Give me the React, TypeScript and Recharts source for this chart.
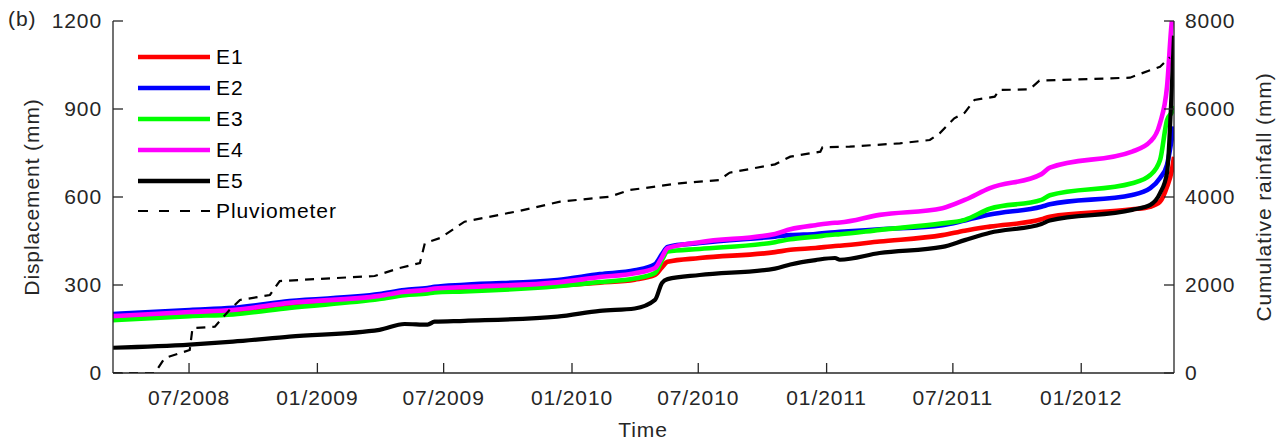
import React from 'react';
import { LineChart, Line, XAxis, YAxis, Legend } from 'recharts';

// displacement readings (mm)
const dispDates = [
  '2008-03-14', '2008-07-02', '2008-09-02', '2008-11-22', '2009-03-31', '2009-05-06', '2009-06-08',
  '2009-06-18', '2009-07-31', '2009-12-11', '2010-02-10', '2010-04-01', '2010-04-30', '2010-05-10',
  '2010-05-18', '2010-07-03', '2010-10-19', '2010-11-10', '2010-12-16', '2011-01-13', '2011-01-20',
  '2011-03-18', '2011-06-16', '2011-07-18', '2011-08-23', '2011-11-05', '2011-11-17', '2012-03-14',
  '2012-04-09', '2012-04-23', '2012-05-03', '2012-05-10', '2012-05-13',
];
const e1 = [186, 199, 206, 230, 256, 269, 275, 279, 282, 298, 308, 318, 334, 360, 379, 392, 412, 420, 426, 433, 434, 448, 470, 485, 499, 524, 533, 558, 567, 584, 635, 692, 737];
const e2 = [201, 215, 222, 245, 269, 283, 290, 294, 301, 317, 337, 350, 371, 405, 430, 443, 465, 470, 474, 480, 481, 490, 504, 520, 540, 567, 575, 607, 630, 665, 710, 800, 840];
const e3 = [180, 194, 200, 222, 252, 265, 271, 275, 278, 296, 310, 322, 341, 385, 414, 423, 446, 456, 465, 472, 473, 488, 510, 522, 560, 590, 606, 647, 675, 726, 862, 890, 910];
const e4 = [194, 208, 215, 239, 263, 277, 284, 288, 293, 309, 327, 340, 358, 395, 426, 446, 474, 490, 504, 512, 513, 539, 562, 590, 630, 678, 700, 755, 789, 852, 976, 1200, 1240];
const e5 = [86, 97, 107, 124, 147, 167, 165, 175, 178, 192, 212, 220, 249, 307, 320, 334, 356, 370, 385, 392, 386, 409, 430, 453, 478, 508, 520, 556, 573, 613, 682, 980, 1150];

// cumulative rainfall (mm)
const rainDates = [
  '2008-03-14', '2008-05-13', '2008-05-27', '2008-07-02', '2008-07-06', '2008-08-07', '2008-08-28',
  '2008-09-12', '2008-10-25', '2008-11-08', '2009-03-24', '2009-04-29', '2009-05-28', '2009-06-04',
  '2009-06-26', '2009-07-31', '2009-10-19', '2009-12-15', '2010-02-24', '2010-03-25', '2010-06-04',
  '2010-07-31', '2010-08-15', '2010-10-19', '2010-11-10', '2010-12-23', '2010-12-26', '2011-02-03',
  '2011-04-16', '2011-05-29', '2011-06-12', '2011-07-03', '2011-07-18', '2011-08-01', '2011-08-30',
  '2011-09-06', '2011-10-19', '2011-11-02', '2012-03-11', '2012-03-25', '2012-04-23', '2012-05-07',
];
const rainfall = [
  0, 0, 340, 523, 1020, 1052, 1432, 1659, 1773, 2090, 2205, 2386, 2500, 2950, 3068, 3439, 3689, 3894,
  4007, 4159, 4311, 4386, 4552, 4742, 4917, 5030, 5129, 5144, 5220, 5295, 5447, 5788, 5917, 6205, 6280,
  6432, 6447, 6644, 6712, 6795, 6962, 7174,
];

const seriesNames = ['E1', 'E2', 'E3', 'E4', 'E5'];
const seriesColors = ['#ff0000', '#0000ff', '#00ff00', '#ff00ff', '#000000'];
const seriesValues = [e1, e2, e3, e4, e5];

const tickDates = ['2008-07-01', '2009-01-01', '2009-07-01', '2010-01-01', '2010-07-01', '2011-01-01', '2011-07-01', '2012-01-01'];
const tickLabels = ['07/2008', '01/2009', '07/2009', '01/2010', '07/2010', '01/2011', '07/2011', '01/2012'];
const leftTicks = [0, 300, 600, 900, 1200];
const rightTicks = [0, 2000, 4000, 6000, 8000];
const startDate = '2008-03-14';
const endDate = '2012-05-13';

const toT = (s: string) => Date.parse(s + 'T00:00:00Z');

const dispData = dispDates.map((d, i) => {
  const row: Record<string, number> = { t: toT(d) };
  seriesNames.forEach((n, k) => { row[n] = seriesValues[k][i]; });
  return row;
});
const rainData = rainDates.map((d, i) => ({ t: toT(d), rain: rainfall[i] }));
const xTicks = tickDates.map(toT);

const FONT = '"Liberation Sans", Arial, sans-serif';
const INK = '#262626';
const tickStyle = { fill: INK, fontSize: 21, fontFamily: FONT, letterSpacing: 0.9 };
const lineStyle = { stroke: INK, strokeWidth: 1.3 };
const RAIN_DASH = '9 7';

const fmtX = (v: number) => {
  const i = xTicks.indexOf(v);
  return i >= 0 ? tickLabels[i] : '';
};

function LegendBox(props: any) {
  const items = (props.payload || []) as any[];
  return (
    <div style={{ fontFamily: FONT, fontSize: 21, color: '#000', letterSpacing: 0.9 }}>
      {items.map((it) => (
        <div key={it.value} style={{ display: 'flex', alignItems: 'center', height: 30.8 }}>
          <svg width={78} height={12}>
            <line
              x1={0} y1={6} x2={72} y2={6}
              stroke={it.color}
              strokeWidth={it.value === 'Pluviometer' ? 2.2 : 4.5}
              strokeDasharray={it.value === 'Pluviometer' ? '10 11' : undefined}
            />
          </svg>
          <span>{it.value}</span>
        </div>
      ))}
    </div>
  );
}

export default function App() {
  return (
    <div style={{ position: 'absolute', left: 0, top: 0, width: 1285, height: 443, background: '#fff' }}>
      <div style={{ position: 'absolute', left: 8, top: 7, fontFamily: FONT, fontSize: 21, letterSpacing: 0.9, color: INK }}>(b)</div>
      <LineChart width={1285} height={443} margin={{ top: 21, right: 51, bottom: 40, left: 53 }}>
        <XAxis
          dataKey="t" type="number" scale="linear" domain={[toT(startDate), toT(endDate)]} allowDataOverflow
          ticks={xTicks} tickFormatter={fmtX} height={30} tickSize={-10} tickMargin={27}
          tick={tickStyle} axisLine={lineStyle} tickLine={lineStyle} interval={0}
          label={{
            content: () => (
              <text x={643} y={437} textAnchor="middle" fill={INK} fontSize={21} fontFamily={FONT} style={{ letterSpacing: 0.9 }}>Time</text>
            ),
          }}
        />
        <XAxis
          xAxisId="top" orientation="top" dataKey="t" type="number" scale="linear"
          domain={[toT(startDate), toT(endDate)]} allowDataOverflow ticks={xTicks}
          tickFormatter={() => ''} height={0} tickSize={-10} axisLine={lineStyle} tickLine={lineStyle} interval={0}
        />
        <YAxis
          yAxisId="left" domain={[0, 1200]} ticks={leftTicks} allowDataOverflow width={60}
          tickSize={-10} tickMargin={21} tick={tickStyle} axisLine={lineStyle} tickLine={lineStyle} interval={0}
          label={{
            content: () => (
              <text x={31} y={197} transform="rotate(-90 31 197)" textAnchor="middle" dominantBaseline="central" fill={INK} fontSize={21} fontFamily={FONT} style={{ letterSpacing: 0.9 }}>
                Displacement (mm)
              </text>
            ),
          }}
        />
        <YAxis
          yAxisId="right" orientation="right" domain={[0, 8000]} ticks={rightTicks} allowDataOverflow width={60}
          tickSize={-10} tickMargin={21} tick={tickStyle} axisLine={lineStyle} tickLine={lineStyle} interval={0}
          label={{
            content: () => (
              <text x={1263} y={197} transform="rotate(-90 1263 197)" textAnchor="middle" dominantBaseline="central" fill={INK} fontSize={21} fontFamily={FONT} style={{ letterSpacing: 0.9 }}>
                Cumulative rainfall (mm)
              </text>
            ),
          }}
        />
        {seriesNames.map((n, k) => (
          <Line
            key={n} yAxisId="left" data={dispData} dataKey={n} name={n} type="monotone"
            stroke={seriesColors[k]} strokeWidth={n === 'E5' ? 4.2 : 4.6} dot={false} isAnimationActive={false}
          />
        ))}
        <Line
          yAxisId="right" data={rainData} dataKey="rain" name="Pluviometer" type="linear"
          stroke="#000" strokeWidth={2.2} strokeDasharray={RAIN_DASH} dot={false} isAnimationActive={false}
        />
        <Legend
          layout="vertical" align="center" verticalAlign="middle" content={<LegendBox />}
          wrapperStyle={{ left: 138, top: 42, width: 'auto', height: 'auto' }}
        />
      </LineChart>
    </div>
  );
}
